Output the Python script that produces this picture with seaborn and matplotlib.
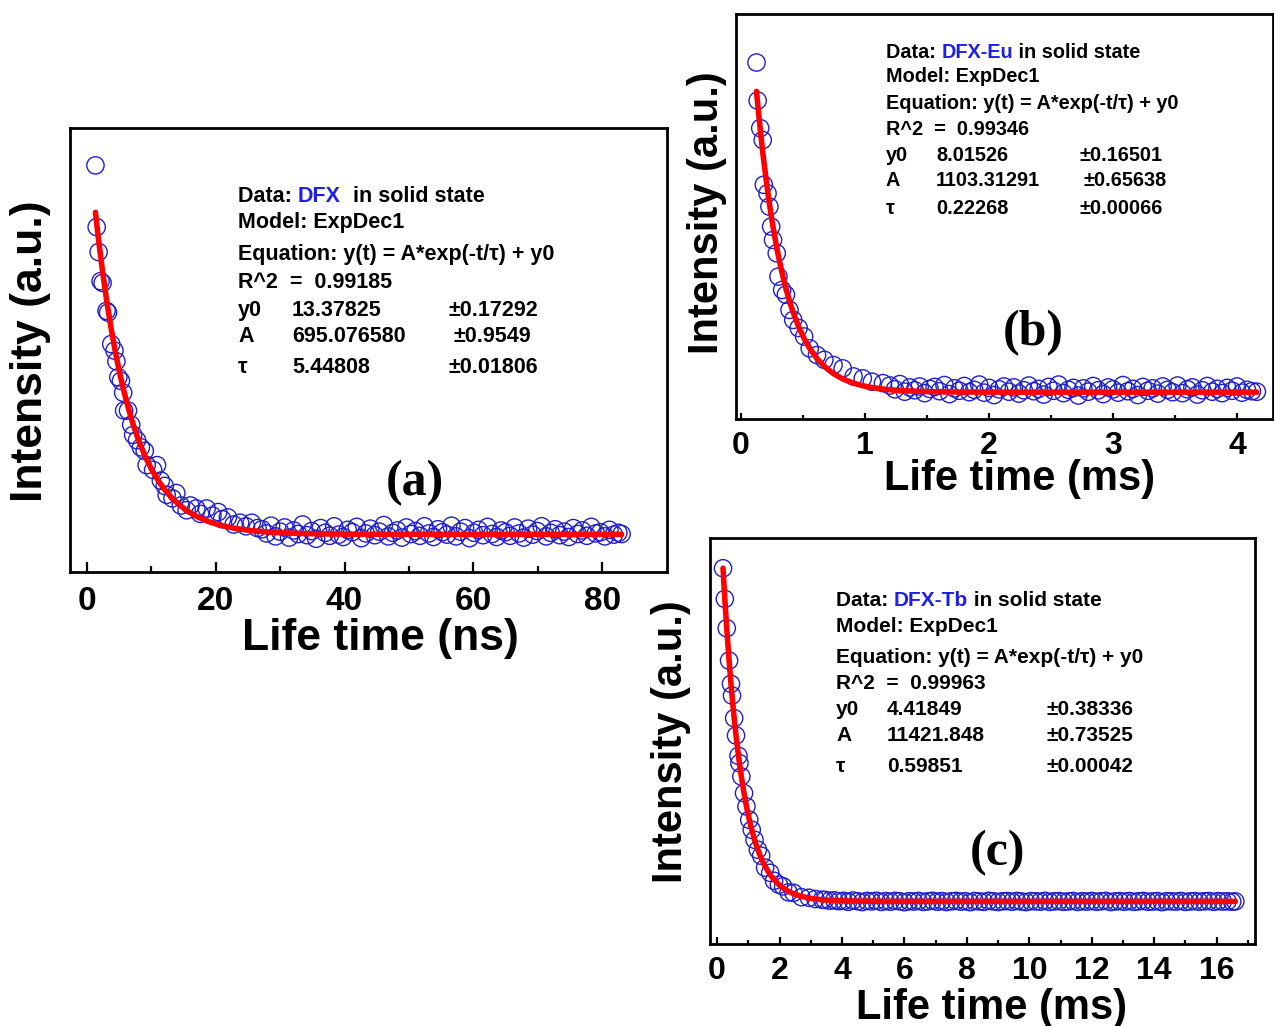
import numpy as np
import matplotlib
matplotlib.use("Agg")
import matplotlib.pyplot as plt
import seaborn as sns

# ---------------- data ----------------
# (a) DFX, life time in ns
time_a = [1.35, 1.54, 1.84, 2.15, 2.46, 3.07, 3.3, 3.8, 4.3, 4.6,
          4.9, 5.3, 5.65, 5.8, 6.4, 6.9, 7.2, 7.8, 8.4, 9.0,
          9.3, 10.3, 10.9, 11.5, 12.1, 12.4, 13.3, 13.9, 14.6, 15.5,
          16.1, 17.0, 17.6, 18.6, 19.5, 20.4, 21.0, 21.9, 22.8, 23.8,
          24.7, 25.6, 26.5,
          27.2, 27.9, 28.6, 29.3, 30.0, 30.7, 31.4, 32.1, 32.8, 33.5,
          34.2, 34.9, 35.6, 36.3, 37.0, 37.7, 38.4, 39.1, 39.8, 40.5,
          41.2, 41.9, 42.6, 43.3, 44.0, 44.7, 45.4, 46.1, 46.8, 47.5,
          48.2, 48.9, 49.6, 50.3, 51.0, 51.7, 52.4, 53.1, 53.8, 54.5,
          55.2, 55.9, 56.6, 57.3, 58.0, 58.7, 59.4, 60.1, 60.8, 61.5,
          62.2, 62.9, 63.6, 64.3, 65.0, 65.7, 66.4, 67.1, 67.8, 68.5,
          69.2, 69.9, 70.6, 71.3, 72.0, 72.7, 73.4, 74.1, 74.8, 75.5,
          76.2, 76.9, 77.6, 78.3, 79.0, 79.7, 80.4, 81.1, 81.8, 82.5,
          83.0]
intensity_a = [635, 531, 489, 440, 437, 390, 387, 334, 323, 305,
               278, 272, 252, 222, 222, 198, 181, 172, 160, 154,
               130, 122, 130, 104, 95, 80, 74, 83, 62, 54,
               62, 57, 48, 57, 45, 51, 39, 42, 30, 33,
               27, 33, 24,
               22, 15, 28, 10, 18, 25, 8, 20, 14, 30,
               12, 19, 6, 24, 16, 11, 27, 13, 9, 21,
               17, 26, 7, 15, 23, 12, 18, 29, 10, 16,
               20, 8, 25, 14, 19, 11, 27, 15, 9, 22,
               17, 13, 28, 10, 18, 24, 7, 16, 21, 12,
               26, 14, 9, 20, 17, 11, 25, 15, 8, 23,
               13, 19, 27, 10, 16, 22, 12, 18, 9, 24,
               14, 20, 11, 26, 15, 17, 10, 21, 13, 16,
               14]

# (b) DFX-Eu, life time in ms
time_b = [0.124, 0.133, 0.154, 0.174, 0.183, 0.213, 0.228, 0.242, 0.257, 0.287,
          0.301, 0.331, 0.361, 0.390, 0.420, 0.464, 0.508, 0.553, 0.612, 0.671,
          0.745, 0.819, 0.907, 0.981, 1.055, 1.144,
          1.20, 1.24, 1.28, 1.32, 1.36, 1.40, 1.44, 1.48, 1.52, 1.56,
          1.60, 1.64, 1.68, 1.72, 1.76, 1.80, 1.84, 1.88, 1.92, 1.96,
          2.00, 2.04, 2.08, 2.12, 2.16, 2.20, 2.24, 2.28, 2.32, 2.36,
          2.40, 2.44, 2.48, 2.52, 2.56, 2.60, 2.64, 2.68, 2.72, 2.76,
          2.80, 2.84, 2.88, 2.92, 2.96, 3.00, 3.04, 3.08, 3.12, 3.16,
          3.20, 3.24, 3.28, 3.32, 3.36, 3.40, 3.44, 3.48, 3.52, 3.56,
          3.60, 3.64, 3.68, 3.72, 3.76, 3.80, 3.84, 3.88, 3.92, 3.96,
          4.00, 4.04, 4.08, 4.12, 4.16]
intensity_b = [701, 621, 563, 538, 444, 426, 398, 356, 328, 300,
               251, 223, 213, 181, 160, 143, 125, 100, 86, 76,
               65, 58, 41, 37, 30, 27,
               22, 14, 25, 9, 18, 12, 20, 6, 15, 19,
               10, 23, 4, 16, 11, 21, 8, 13, 24, 7,
               17, 2, 14, 20, 9, 18, 5, 12, 22, 10,
               15, 3, 19, 11, 24, 6, 13, 17, 1, 16,
               9, 21, 12, 4, 18, 14, 7, 23, 10, 15,
               2, 19, 11, 16, 5, 20, 13, 8, 22, 6,
               14, 18, 3, 12, 21, 9, 15, 6, 17, 11,
               20, 7, 13, 10, 9]

# (c) DFX-Tb, life time in ms
time_c = [0.187, 0.245, 0.306, 0.381, 0.442, 0.475, 0.545, 0.604, 0.682, 0.713,
          0.774, 0.860, 0.938, 1.029, 1.107, 1.197, 1.303, 1.408, 1.536, 1.699,
          1.822, 1.980, 2.113, 2.287, 2.444, 2.70, 2.94, 3.15, 3.36,
          3.45, 3.60, 3.75, 3.90, 4.05, 4.20, 4.35, 4.50, 4.65, 4.80,
          4.95, 5.10, 5.25, 5.40, 5.55, 5.70, 5.85, 6.00, 6.15, 6.30,
          6.45, 6.60, 6.75, 6.90, 7.05, 7.20, 7.35, 7.50, 7.65, 7.80,
          7.95, 8.10, 8.25, 8.40, 8.55, 8.70, 8.85, 9.00, 9.15, 9.30,
          9.45, 9.60, 9.75, 9.90, 10.05, 10.20, 10.35, 10.50, 10.65, 10.80,
          10.95, 11.10, 11.25, 11.40, 11.55, 11.70, 11.85, 12.00, 12.15, 12.30,
          12.45, 12.60, 12.75, 12.90, 13.05, 13.20, 13.35, 13.50, 13.65, 13.80,
          13.95, 14.10, 14.25, 14.40, 14.55, 14.70, 14.85, 15.00, 15.15, 15.30,
          15.45, 15.60, 15.75, 15.90, 16.05, 16.20, 16.35, 16.50, 16.60]
intensity_c = [8361, 7592, 6857, 6046, 5461, 5169, 4601, 4166, 3656, 3472,
               3138, 2720, 2386, 2052, 1801, 1550, 1300, 1150, 850, 720,
               520, 422, 380, 230, 220, 110, 95, 63, 46,
               40, 22, 31, 10, 18, -6, 25, 8, -12, 15,
               3, 20, -9, 12, -3, 17, 6, -15, 9, 1,
               14, -8, 5, 19, -4, 11, -11, 7, 16, -2,
               9, -14, 13, 2, -7, 18, 4, -10, 8, 12,
               -5, 15, 1, -12, 10, 6, -3, 17, -8, 5,
               11, -6, 3, 14, -9, 8, 0, 13, -4, 7,
               16, -11, 4, 9, -2, 12, -7, 6, 15, -5,
               2, 10, -13, 8, 5, -1, 14, -8, 3, 11,
               -4, 7, 12, -6, 9, 1, 5, -3, 4]

# ExpDec1 fit results printed on each panel: y0, A, tau
params_a = [13.37825, 695.076580, 5.44808]
params_b = [8.01526, 1103.31291, 0.22268]
params_c = [4.41849, 11421.848, 0.59851]
value_text_a = ["13.37825", "695.076580", "5.44808"]
value_text_b = ["8.01526", "1103.31291", "0.22268"]
value_text_c = ["4.41849", "11421.848", "0.59851"]
error_text_a = ["0.17292", "0.9549", "0.01806"]
error_text_b = ["0.16501", "0.65638", "0.00066"]
error_text_c = ["0.38336", "0.73525", "0.00042"]
r2_a, r2_b, r2_c = "0.99185", "0.99346", "0.99963"
param_names = ["y0", "A", "\u03c4"]

ticks_a, minor_a = [0, 20, 40, 60, 80], [10, 30, 50, 70]
ticks_b, minor_b = [0, 1, 2, 3, 4], [0.5, 1.5, 2.5, 3.5]
ticks_c, minor_c = [0, 2, 4, 6, 8, 10, 12, 14, 16], [1, 3, 5, 7, 9, 11, 13, 15, 17]

CIRCLE = "#2020c8"
NAME_BLUE = "#1f1fe6"

sns.set_theme(style="white")
plt.rcParams["font.family"] = ["Liberation Sans", "DejaVu Sans"]
plt.rcParams["font.weight"] = "bold"

fig = plt.figure(figsize=(12.74, 10.26), dpi=100)


def draw_panel(rect, t, inten, params, sample, sample_gap, vals, errs, r2,
               tag, xlim, ylim, ticks, minors, xlabel, lay):
    ax = fig.add_axes(rect)
    sns.scatterplot(x=t, y=inten, ax=ax, s=155, marker="o", facecolor="none",
                    edgecolor=CIRCLE, linewidth=1.0, zorder=2, legend=False)
    y0, A, tau = params
    tt = np.asarray(t, dtype=float)
    sns.lineplot(x=tt, y=y0 + A * np.exp(-tt / tau), ax=ax, color="red",
                 linewidth=4, estimator=None, zorder=3, legend=False)

    ax.set_xlim(*xlim)
    ax.set_ylim(*ylim)
    ax.set_xticks(ticks)
    ax.set_xticks(minors, minor=True)
    ax.set_yticks([])
    for sp in ax.spines.values():
        sp.set_color("black")
        sp.set_linewidth(2)
    ax.tick_params(axis="x", which="major", direction="in", bottom=True, top=False,
                   length=lay["major"], width=1.6, color="black",
                   labelsize=lay["ticksize"], pad=lay["pad"], labelcolor="black")
    ax.tick_params(axis="x", which="minor", direction="in", bottom=True, top=False,
                   length=lay["minor"], width=1.6, color="black")

    ax.set_xlabel(xlabel, fontsize=lay["labelsize"], fontweight="bold", color="black")
    ax.set_ylabel("Intensity (a.u.)", fontsize=lay["labelsize"], fontweight="bold",
                  color="black")
    ax.xaxis.set_label_coords(*lay["xlab"])
    ax.yaxis.set_label_coords(*lay["ylab"])

    fs = lay["fs"]
    x1, x2, x3 = lay["cols"]
    rows = lay["rows"]
    kw = dict(fontsize=fs, fontweight="bold", color="black")
    t1 = ax.text(x1, rows[0], "Data: ", transform=ax.transAxes, va="center", ha="left", **kw)
    t2 = ax.annotate(sample, xy=(1, 0), xycoords=t1, va="bottom", ha="left",
                     fontsize=fs, fontweight="bold", color=NAME_BLUE)
    ax.annotate(sample_gap + "in solid state", xy=(1, 0), xycoords=t2,
                va="bottom", ha="left", **kw)
    ax.text(x1, rows[1], "Model: ExpDec1", transform=ax.transAxes, va="center", **kw)
    ax.text(x1, rows[2], "Equation: y(t) = A*exp(-t/\u03c4) + y0",
            transform=ax.transAxes, va="center", **kw)
    ax.text(x1, rows[3], "R^2  =  " + r2, transform=ax.transAxes, va="center", **kw)
    for i in range(3):
        ax.text(x1, rows[4 + i], param_names[i], transform=ax.transAxes, va="center", **kw)
        ax.text(x2, rows[4 + i], vals[i], transform=ax.transAxes, va="center", **kw)
        ax.text(x3 + lay["pm_shift"][i], rows[4 + i], "\u00b1" + errs[i],
                transform=ax.transAxes, va="center", **kw)

    ax.text(lay["tag"][0], lay["tag"][1], tag, transform=ax.transAxes, ha="center",
            va="center", fontsize=36, fontweight="bold", color="black",
            family="Liberation Serif")
    return ax


draw_panel([0.05495, 0.44250, 0.46837, 0.43275], time_a, intensity_a, params_a,
           "DFX", "  ", value_text_a, error_text_a, r2_a, "(a)",
           (-2.6, 90.0), (-50, 698), ticks_a, minor_a, "Life time (ns)",
           dict(major=7, minor=4, ticksize=24, pad=10, labelsize=32, fs=15.5,
                xlab=(0.5195, -0.104), ylab=(-0.032, 0.498),
                cols=(0.2815, 0.372, 0.635), pm_shift=(0, 0.007, 0),
                rows=(0.8446, 0.788, 0.714, 0.653, 0.590, 0.5315, 0.4595),
                tag=(0.578, 0.20)))

draw_panel([0.57747, 0.59133, 0.42174, 0.39503], time_b, intensity_b, params_b,
           "DFX-Eu", " ", value_text_b, error_text_b, r2_b, "(b)",
           (-0.044, 4.29), (-49, 803), ticks_b, minor_b, "Life time (ms)",
           dict(major=4.5, minor=3, ticksize=23, pad=8.5, labelsize=30, fs=14.3,
                xlab=(0.528, -0.097), ylab=(-0.016, 0.511),
                cols=(0.2797, 0.3728, 0.6408), pm_shift=(0, 0.0056, 0),
                rows=(0.9062, 0.847, 0.778, 0.7138, 0.652, 0.590, 0.521),
                tag=(0.5533, 0.2134)))

draw_panel([0.55730, 0.07992, 0.42779, 0.39542], time_c, intensity_c, params_c,
           "DFX-Tb", " ", value_text_c, error_text_c, r2_c, "(c)",
           (-0.23, 17.23), (-1065, 9113), ticks_c, minor_c, "Life time (ms)",
           dict(major=5, minor=3, ticksize=23, pad=8.5, labelsize=30, fs=15,
                xlab=(0.517, -0.108), ylab=(-0.035, 0.498),
                cols=(0.2312, 0.3248, 0.6183), pm_shift=(0, 0, 0),
                rows=(0.8479, 0.7838, 0.7074, 0.6433, 0.5768, 0.5127, 0.4363),
                tag=(0.5284, 0.2243)))

fig.savefig("out.png", dpi=100, facecolor="white")
